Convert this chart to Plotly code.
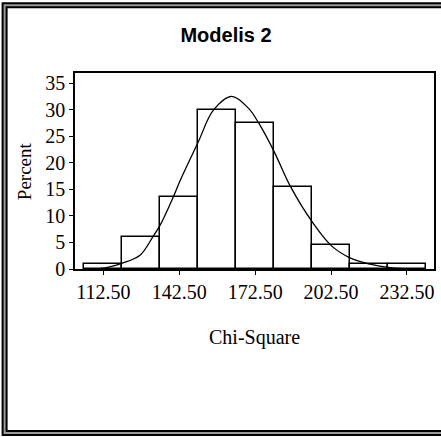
import plotly.graph_objects as go

# ---- data ----
bin_mid = [112.5, 127.5, 142.5, 157.5, 172.5, 187.5, 202.5, 217.5, 232.5]
percent = [1.0, 6.0, 13.5, 30.0, 27.4, 15.4, 4.6, 1.0, 1.0]
bin_width = 15

curve_x = [111.0, 115.0, 120.0, 127.0, 132.0, 135.0, 140.0, 143.0, 150.0, 156.0,
           163.2, 170.0, 174.0, 180.0, 186.5, 195.0, 202.6, 210.0, 218.0, 225.0, 231.0]
curve_y = [0.05, 0.4, 1.1, 2.6, 6.0, 8.3, 13.4, 16.8, 23.9, 29.9,
           32.5, 30.2, 27.4, 22.1, 15.5, 8.9, 4.4, 2.1, 0.9, 0.3, 0.05]

x_tickvals = [112.5, 142.5, 172.5, 202.5, 232.5]
x_ticktext = ["112.50", "142.50", "172.50", "202.50", "232.50"]
y_tickvals = [0, 5, 10, 15, 20, 25, 30, 35]

title_text = "Modelis 2"
x_title = "Chi-Square"
y_title = "Percent"

# ---- layout geometry (pixels) ----
W, H = 441, 437
L, R, T, B = 75, 434.5, 72.5, 269.3


def px(xp):
    return (xp - L) / (R - L)


def py(yp):
    return (B - yp) / (B - T)


fig = go.Figure()
fig.add_trace(go.Bar(
    x=bin_mid, y=percent, width=bin_width,
    marker=dict(color="white", line=dict(color="black", width=1.5)),
    showlegend=False, hoverinfo="skip",
))
fig.add_trace(go.Scatter(
    x=curve_x, y=curve_y, mode="lines",
    line=dict(color="black", width=1.3, shape="spline", smoothing=1.0),
    showlegend=False, hoverinfo="skip",
))

serif = "Liberation Serif, Times New Roman, serif"

fig.update_layout(
    width=W, height=H,
    margin=dict(l=L, r=W - R, t=T, b=H - B, pad=0, autoexpand=False),
    paper_bgcolor="white", plot_bgcolor="white",
    title=dict(text="<b>" + title_text + "</b>", x=226 / W, xref="container",
               xanchor="center", y=1 - 35 / H, yref="container", yanchor="middle",
               font=dict(family="Liberation Sans, Arial, sans-serif", size=20, color="black")),
    bargap=0,
    xaxis=dict(range=[101.3, 243.2], tickvals=x_tickvals, ticktext=x_ticktext,
               showgrid=False, zeroline=False, showline=True, linecolor="black", linewidth=1.5,
               mirror=True, ticks="outside", ticklen=4, tickcolor="black", tickwidth=1.2,
               automargin=False,
               tickfont=dict(family=serif, size=20, color="black")),
    yaxis=dict(range=[0, 36.9], tickvals=y_tickvals,
               showgrid=False, zeroline=False, showline=True, linecolor="black", linewidth=1.5,
               mirror=True, ticks="outside", ticklen=4, tickcolor="black", tickwidth=1.2,
               automargin=False,
               tickfont=dict(family=serif, size=20, color="black")),
    annotations=[
        dict(text=y_title, x=px(24), y=py(171), xref="paper", yref="paper",
             textangle=-90, showarrow=False, xanchor="center", yanchor="middle",
             font=dict(family=serif, size=19, color="black")),
        dict(text=x_title, x=px(254.7), y=py(338), xref="paper", yref="paper",
             showarrow=False, xanchor="center", yanchor="middle",
             font=dict(family=serif, size=20, color="black")),
    ],
    shapes=[
        dict(type="rect", xref="paper", yref="paper",
             x0=px(4.5), x1=px(450), y0=py(434), y1=py(4.5),
             line=dict(color="black", width=6), fillcolor="rgba(0,0,0,0)", layer="above"),
        dict(type="rect", xref="paper", yref="paper",
             x0=px(4.5), x1=px(450), y0=py(434), y1=py(4.5),
             line=dict(color="#9a9a9a", width=2), fillcolor="rgba(0,0,0,0)", layer="above"),
    ],
)

fig.write_html("out.html", config={"displayModeBar": False},
               post_script="document.body.style.margin='0';document.body.style.overflow='hidden';")
